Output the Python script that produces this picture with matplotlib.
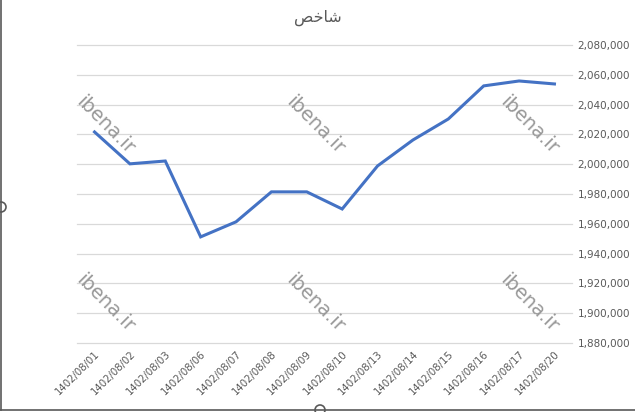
import matplotlib.pyplot as plt
from matplotlib.patches import Circle
from matplotlib.lines import Line2D

# data
dates = ["1402/08/01", "1402/08/02", "1402/08/03", "1402/08/06", "1402/08/07",
         "1402/08/08", "1402/08/09", "1402/08/10", "1402/08/13", "1402/08/14",
         "1402/08/15", "1402/08/16", "1402/08/17", "1402/08/20"]
index_values = [2021600, 2000200, 2002100, 1951200, 1961300, 1981400, 1981400,
                1969900, 1998800, 2016200, 2030300, 2052500, 2055800, 2053800]
y_ticks = list(range(1880000, 2080001, 20000))

# title "شاخص" written in shaped presentation forms (matplotlib has no Arabic shaping)
title = "\ufeba\ufea7\ufe8e\ufeb7"
watermark = "ibena.ir"

fig = plt.figure(figsize=(6.35, 4.12), dpi=100)
ax = fig.add_axes([0.121, 0.1675, 0.780, 0.7235])

x = list(range(len(dates)))
ax.plot(x, index_values, color="#4472C4", linewidth=2.2, solid_joinstyle="miter", zorder=3)

ax.set_xlim(-0.5, len(dates) - 0.5)
ax.set_ylim(y_ticks[0], y_ticks[-1])
ax.set_yticks(y_ticks)
ax.set_yticklabels([f"{v:,}" for v in y_ticks])
ax.yaxis.tick_right()
ax.grid(axis="y", color="#D9D9D9", linewidth=0.9)
for gl in ax.yaxis.get_gridlines():
    gl.set_clip_on(False)
ax.set_axisbelow(True)
for s in ax.spines.values():
    s.set_visible(False)
ax.tick_params(axis="y", length=0, pad=4, labelsize=7.5, labelcolor="#595959")
ax.set_xticks(x)
ax.set_xticklabels(dates, rotation=45, ha="right", rotation_mode="anchor")
ax.tick_params(axis="x", length=0, pad=4, labelsize=7.3, labelcolor="#595959")

fig.text(0.5, 0.957, title, ha="center", va="center", fontsize=11.5,
         color="#595959", family="DejaVu Sans")

# watermarks
for wx in (0.165, 0.497, 0.833):
    for wy in (0.695, 0.265):
        fig.text(wx, wy, watermark, ha="center", va="center", rotation=-45,
                 fontsize=14, color="#999999", zorder=1)

# chart frame edge with selection handles
fig.add_artist(Line2D([0.002, 0.002], [0.005, 1.0], color="#595959", linewidth=1.2,
                      transform=fig.transFigure))
fig.add_artist(Line2D([0.0, 1.0], [0.005, 0.005], color="#595959", linewidth=1.2,
                      transform=fig.transFigure))
for cx, cy in ((1, 207), (320, 410)):
    fig.add_artist(Circle((cx, 412 - cy), 5, transform=None, facecolor="white",
                          edgecolor="#595959", linewidth=1.2))

fig.savefig("out.png", dpi=100)
